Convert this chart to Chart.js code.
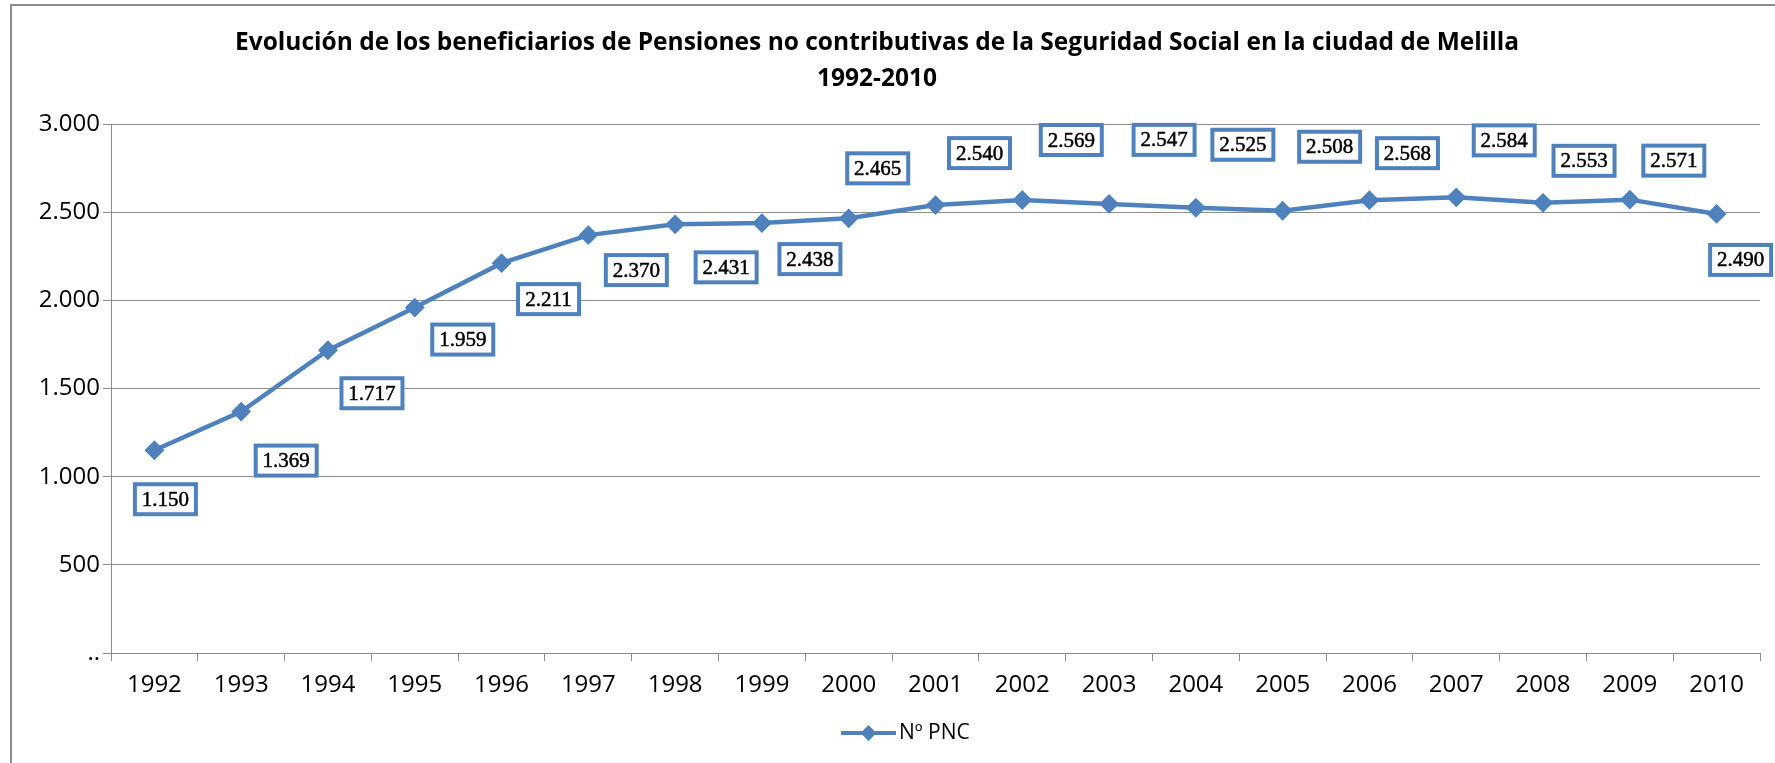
<!DOCTYPE html>
<html lang="es">
<head>
<meta charset="utf-8">
<title>Pensiones no contributivas - Melilla</title>
<script src="https://cdn.jsdelivr.net/npm/chart.js@4.4.1/dist/chart.umd.min.js"></script>
<style>
  html, body { margin: 0; padding: 0; background: #fff; }
  #wrap { position: relative; width: 1775px; height: 763px; }
</style>
</head>
<body>
<div id="wrap"><canvas id="chartPNC" width="1775" height="763"></canvas></div>
<script>
// datos
const years = ['1992', '1993', '1994', '1995', '1996', '1997', '1998', '1999', '2000', '2001',
  '2002', '2003', '2004', '2005', '2006', '2007', '2008', '2009', '2010'];
const pnc = [1150, 1369, 1717, 1959, 2211, 2370, 2431, 2438, 2465, 2540,
  2569, 2547, 2525, 2508, 2568, 2584, 2553, 2571, 2490];
const seriesName = 'Nº PNC';
const titleLines = [
  'Evolución de los beneficiarios de Pensiones no contributivas de la Seguridad Social en la ciudad de Melilla',
  '1992-2010'
];
const yTicks = [0, 500, 1000, 1500, 2000, 2500, 3000];

// desplazamiento (px) de cada etiqueta respecto a su punto, como en el original
const labelNudge = [
  [11, 49], [45, 49], [44, 43], [48, 32], [47, 36], [48, 35], [51, 43], [48, 36], [29, -50], [44, -52],
  [49, -60], [55, -64], [47, -63], [47, -64], [38, -47], [48, -57], [41, -42], [44, -39], [24, 46]
];

const azul = '#4F81BD';
const gris = '#8c8c8c';

function miles(v) {
  return String(v).replace(/\B(?=(\d{3})+(?!\d))/g, '.');
}

// marco, título, etiquetas y leyenda dibujados a mano
const extras = {
  id: 'extras',
  beforeDraw(chart) {
    const c = chart.ctx;
    c.save();
    c.fillStyle = '#fff';
    c.fillRect(0, 0, chart.width, chart.height);
    c.strokeStyle = gris;
    c.lineWidth = 2;
    c.beginPath();
    c.moveTo(11, chart.height);
    c.lineTo(11, 5);
    c.lineTo(chart.width, 5);
    c.stroke();
    c.restore();
  },
  afterDatasetsDraw(chart) {
    const c = chart.ctx;
    const pts = chart.getDatasetMeta(0).data;
    c.save();
    c.font = '21px "Liberation Serif"';
    c.textAlign = 'center';
    c.textBaseline = 'middle';
    pts.forEach((p, i) => {
      const x = p.x + labelNudge[i][0];
      const y = p.y + labelNudge[i][1];
      const txt = miles(pnc[i]);
      c.fillStyle = '#fff';
      c.fillRect(x - 32.5, y - 17, 65, 34);
      c.strokeStyle = azul;
      c.lineWidth = 4;
      c.strokeRect(x - 30.5, y - 15, 61, 30);
      c.fillStyle = '#000';
      c.fillText(txt, x, y + 1);
      // un poco más de cuerpo, como el texto del original
      c.strokeStyle = '#000';
      c.lineWidth = 0.5;
      c.strokeText(txt, x, y + 1);
    });
    c.restore();
  },
  afterDraw(chart) {
    const c = chart.ctx;
    c.save();
    c.fillStyle = '#000';
    c.textAlign = 'center';
    c.textBaseline = 'middle';
    c.font = 'bold 24.5px "Open Sans"';
    c.fillText(titleLines[0], 877, 43);
    c.fillText(titleLines[1], 877, 79);

    // leyenda
    const ly = 733;
    c.strokeStyle = azul;
    c.lineWidth = 4;
    c.beginPath();
    c.moveTo(841, ly);
    c.lineTo(896, ly);
    c.stroke();
    c.fillStyle = azul;
    c.beginPath();
    c.moveTo(868.5 - 8, ly);
    c.lineTo(868.5, ly - 8);
    c.lineTo(868.5 + 8, ly);
    c.lineTo(868.5, ly + 8);
    c.closePath();
    c.fill();
    c.fillStyle = '#000';
    c.textAlign = 'left';
    c.font = '21px "Open Sans"';
    c.fillText(chart.data.datasets[0].label, 899, ly);
    c.restore();
  }
};

new Chart(document.getElementById('chartPNC'), {
  type: 'line',
  data: {
    labels: years,
    datasets: [{
      label: seriesName,
      data: pnc,
      borderColor: azul,
      backgroundColor: azul,
      borderWidth: 4.5,
      pointStyle: 'rectRot',
      pointRadius: 8.5,
      pointBorderWidth: 2,
      pointBackgroundColor: azul,
      pointBorderColor: azul,
      tension: 0,
      fill: false
    }]
  },
  options: {
    responsive: false,
    animation: false,
    layout: { padding: { top: 124, left: 0, right: 15, bottom: 0 } },
    plugins: {
      legend: { display: false },
      title: { display: false },
      tooltip: { enabled: false }
    },
    scales: {
      x: {
        offset: true,
        afterFit: (s) => { s.height = 110; },
        grid: {
          offset: true,
          drawOnChartArea: false,
          color: gris,
          tickLength: 8
        },
        border: { color: gris, width: 1 },
        ticks: {
          color: '#000',
          padding: 10,
          maxRotation: 0,
          font: { family: 'Open Sans', size: 24 }
        }
      },
      y: {
        min: 0,
        max: 3000,
        afterFit: (s) => { s.width = 111; },
        afterBuildTicks: (s) => { s.ticks = yTicks.map(v => ({ value: v })); },
        grid: { color: gris, tickLength: 8 },
        border: { color: gris, width: 1 },
        ticks: {
          color: '#000',
          padding: 3,
          font: { family: 'Open Sans', size: 24 },
          callback: (v) => v === 0 ? '..' : miles(v)
        }
      }
    }
  },
  plugins: [extras]
});
</script>
</body>
</html>
